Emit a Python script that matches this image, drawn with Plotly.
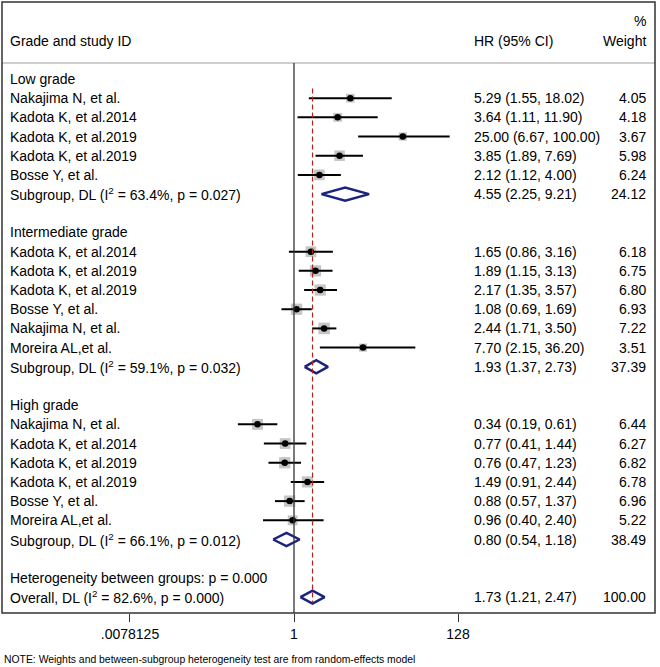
import math
import plotly.graph_objects as go

# ---- data ----
groups = ["Low grade", "Intermediate grade", "High grade"]
study_labels = [
    ["Nakajima N, et al.", "Kadota K, et al.2014", "Kadota K, et al.2019", "Kadota K, et al.2019", "Bosse Y, et al."],
    ["Kadota K, et al.2014", "Kadota K, et al.2019", "Kadota K, et al.2019", "Bosse Y, et al.", "Nakajima N, et al.", "Moreira AL,et al."],
    ["Nakajima N, et al.", "Kadota K, et al.2014", "Kadota K, et al.2019", "Kadota K, et al.2019", "Bosse Y, et al.", "Moreira AL,et al."],
]
study_hr = [
    [5.29, 3.64, 25.00, 3.85, 2.12],
    [1.65, 1.89, 2.17, 1.08, 2.44, 7.70],
    [0.34, 0.77, 0.76, 1.49, 0.88, 0.96],
]
study_lo = [
    [1.55, 1.11, 6.67, 1.89, 1.12],
    [0.86, 1.15, 1.35, 0.69, 1.71, 2.15],
    [0.19, 0.41, 0.47, 0.91, 0.57, 0.40],
]
study_hi = [
    [18.02, 11.90, 100.00, 7.69, 4.00],
    [3.16, 3.13, 3.57, 1.69, 3.50, 36.20],
    [0.61, 1.44, 1.23, 2.44, 1.37, 2.40],
]
study_w = [
    [4.05, 4.18, 3.67, 5.98, 6.24],
    [6.18, 6.75, 6.80, 6.93, 7.22, 3.51],
    [6.44, 6.27, 6.82, 6.78, 6.96, 5.22],
]
sub_i2 = ["63.4%", "59.1%", "66.1%"]
sub_p = ["0.027", "0.032", "0.012"]
sub_hr = [4.55, 1.93, 0.80]
sub_lo = [2.25, 1.37, 0.54]
sub_hi = [9.21, 2.73, 1.18]
sub_w = [24.12, 37.39, 38.49]
het_p = "0.000"
overall_i2 = "82.6%"
overall_p = "0.000"
overall_hr = 1.73
overall_lo = 1.21
overall_hi = 2.47
overall_w = 100.00
tick_vals = [1 / 128, 1, 128]
tick_text = [".0078125", "1", "128"]

# ---- layout constants ----
W, H = 660, 667
L, R, T, B = 2, 5, 2, 54
FONT = "Liberation Sans, Arial, sans-serif"
FS = 14
NAVY = "#1a237e"
lg = math.log2

def px_x(p):
    return (p - L) / (W - L - R)

# build row list
rows = []  # (kind, label, hr, lo, hi, w)
for g in range(3):
    rows.append(("group", groups[g], None, None, None, None))
    for i in range(len(study_labels[g])):
        rows.append(("study", study_labels[g][i], study_hr[g][i], study_lo[g][i], study_hi[g][i], study_w[g][i]))
    rows.append(("sub", "Subgroup, DL (I<sup>2</sup> = %s, p = %s)" % (sub_i2[g], sub_p[g]),
                 sub_hr[g], sub_lo[g], sub_hi[g], sub_w[g]))
    rows.append(("blank", "", None, None, None, None))
rows.append(("group", "Heterogeneity between groups: p = %s" % het_p, None, None, None, None))
rows.append(("sub", "Overall, DL (I<sup>2</sup> = %s, p = %s)" % (overall_i2, overall_p),
             overall_hr, overall_lo, overall_hi, overall_w))

n_rows = len(rows)
y_top = -4.01
y_bot = n_rows - 1 + 0.83

fig = go.Figure()

ci_x, ci_y = [], []
sq_x, sq_y, sq_s = [], [], []
dia_x, dia_y = [], []
annotations = []

for r, (kind, label, hr, lo, hi, w) in enumerate(rows):
    if label:
        annotations.append(dict(x=px_x(8), xref="paper", y=r, yref="y", text=label,
                                xanchor="left", yanchor="middle", showarrow=False))
    if kind == "study":
        ci_x += [lg(lo), lg(hi), None]
        ci_y += [r, r, None]
        sq_x.append(lg(hr)); sq_y.append(r); sq_s.append(4.3 * math.sqrt(w))
    if kind == "sub":
        dia_x += [lg(lo), lg(hr), lg(hi), lg(hr), lg(lo), None]
        dia_y += [r, r - 0.34, r, r + 0.34, r, None]
    if kind in ("study", "sub"):
        annotations.append(dict(x=px_x(472), xref="paper", y=r, yref="y",
                                text="%.2f (%.2f, %.2f)" % (hr, lo, hi),
                                xanchor="left", yanchor="middle", showarrow=False))
        annotations.append(dict(x=px_x(648), xref="paper", y=r, yref="y",
                                text="%.2f" % w,
                                xanchor="right", yanchor="middle", showarrow=False))

# header
annotations += [
    dict(x=px_x(8), xref="paper", y=-2, yref="y", text="Grade and study ID",
         xanchor="left", yanchor="middle", showarrow=False),
    dict(x=px_x(472), xref="paper", y=-2, yref="y", text="HR (95% CI)",
         xanchor="left", yanchor="middle", showarrow=False),
    dict(x=px_x(648), xref="paper", y=-2, yref="y", text="Weight",
         xanchor="right", yanchor="middle", showarrow=False),
    dict(x=px_x(648), xref="paper", y=-3, yref="y", text="%",
         xanchor="right", yanchor="middle", showarrow=False),
    dict(x=0, xref="paper", y=-(659 - (H - B)) / (H - T - B), yref="paper",
         text="NOTE: Weights and between-subgroup heterogeneity test are from random-effects model",
         xanchor="left", yanchor="middle", showarrow=False, font=dict(size=10.4)),
]

fig.add_trace(go.Scatter(x=sq_x, y=sq_y, mode="markers",
                         marker=dict(symbol="square", size=sq_s, color="#adadad", line=dict(width=0)),
                         hoverinfo="skip"))
fig.add_trace(go.Scatter(x=ci_x, y=ci_y, mode="lines", line=dict(color="black", width=2),
                         hoverinfo="skip"))
fig.add_trace(go.Scatter(x=sq_x, y=sq_y, mode="markers",
                         marker=dict(symbol="circle", size=6.5, color="black", line=dict(width=0)),
                         hoverinfo="skip"))
fig.add_trace(go.Scatter(x=dia_x, y=dia_y, mode="lines", line=dict(color=NAVY, width=2.5),
                         hoverinfo="skip"))

shapes = [
    # header separator
    dict(type="line", xref="paper", x0=0, x1=1, yref="y", y0=-0.83, y1=-0.83,
         line=dict(color="#cfcfcf", width=2)),
    # null line
    dict(type="line", xref="x", x0=0, x1=0, yref="y", y0=-0.83, y1=y_bot,
         line=dict(color="#333333", width=1.3)),
    # overall dashed line
    dict(type="line", xref="x", x0=lg(overall_hr), x1=lg(overall_hr), yref="y", y0=0.5, y1=n_rows - 1 + 0.3,
         line=dict(color="#b22222", width=1.2, dash="5px,3px")),
    # outer box
    dict(type="rect", xref="paper", yref="paper", x0=0, x1=1, y0=0, y1=1,
         line=dict(color="#333333", width=1.5)),
]

x_left = (L - 294) / 23.43
x_right = (W - R - 294) / 23.43

fig.update_layout(
    width=W, height=H,
    margin=dict(l=L, r=R, t=T, b=B),
    paper_bgcolor="white", plot_bgcolor="white",
    showlegend=False,
    font=dict(family=FONT, size=FS, color="black"),
    annotations=annotations,
    shapes=shapes,
    hovermode=False,
    xaxis=dict(range=[x_left, x_right], showgrid=False, zeroline=False, showline=False,
               tickmode="array", tickvals=[lg(v) for v in tick_vals], ticktext=tick_text,
               ticks="outside", ticklen=8, tickwidth=1.2, tickcolor="#333333",
               tickfont=dict(size=FS, family=FONT)),
    yaxis=dict(range=[y_bot, y_top], showgrid=False, zeroline=False, showline=False,
               showticklabels=False, ticks=""),
)

fig.write_html("out.html")
